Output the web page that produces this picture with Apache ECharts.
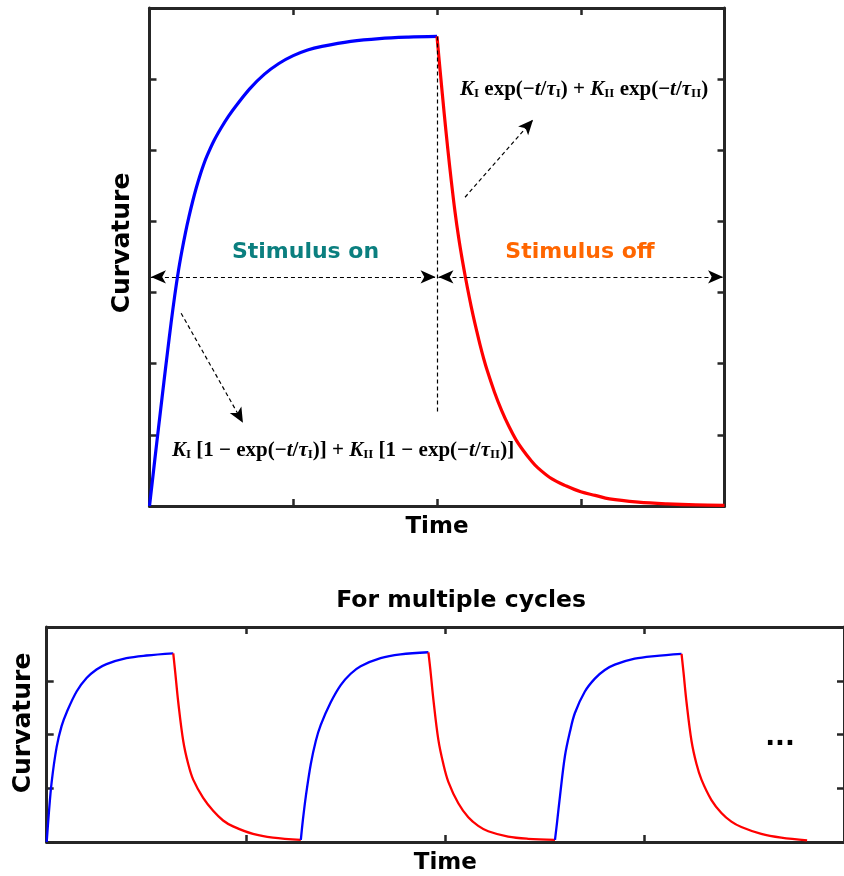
<!DOCTYPE html>
<html>
<head>
<meta charset="utf-8">
<title>Curvature response</title>
<script src="https://cdn.jsdelivr.net/npm/echarts@6/dist/echarts.min.js"></script>
<style>
html, body { margin: 0; padding: 0; background: #fff; }
#chart { width: 844px; height: 876px; }
</style>
</head>
<body>
<div id="chart"></div>
<script>
/****************  data  ****************************************/
// top panel: one on / off cycle
var onTime  = [0, 0.025, 0.05, 0.075, 0.1, 0.125, 0.15, 0.175, 0.2, 0.225, 0.25, 0.275, 0.3, 0.325, 0.35, 0.375, 0.4,
               0.45, 0.5, 0.55, 0.6, 0.7, 0.8, 0.9, 1.0, 1.1, 1.2, 1.4, 1.6, 1.8, 2.0];
var onCurv  = [0, 0.44, 0.88, 1.31, 1.74, 2.16, 2.57, 2.95, 3.29, 3.58, 3.84, 4.07, 4.28, 4.47, 4.64, 4.79, 4.92,
               5.14, 5.32, 5.48, 5.62, 5.87, 6.07, 6.22, 6.33, 6.41, 6.46, 6.53, 6.57, 6.59, 6.6];
var offTime = [2.0, 2.025, 2.05, 2.075, 2.1, 2.125, 2.15, 2.175, 2.2, 2.225, 2.25, 2.275, 2.3, 2.325, 2.35,
               2.4, 2.45, 2.5, 2.55, 2.6, 2.65, 2.7, 2.8, 2.9, 3.0, 3.1, 3.2, 3.4, 3.6, 3.8, 4.0];
var offCurv = [6.6, 6.05, 5.52, 5.02, 4.56, 4.14, 3.78, 3.47, 3.19, 2.93, 2.69, 2.47, 2.26, 2.07, 1.9,
               1.6, 1.34, 1.12, 0.93, 0.78, 0.65, 0.54, 0.38, 0.28, 0.2, 0.15, 0.1, 0.055, 0.03, 0.015, 0.01];

// bottom panel: three cycles
var rise1Time = [0, 0.01, 0.025, 0.05, 0.075, 0.1, 0.15, 0.2, 0.25, 0.3, 0.4, 0.5, 0.635];
var rise1Curv = [0, 0.5, 1.12, 1.77, 2.16, 2.41, 2.8, 3.05, 3.21, 3.31, 3.42, 3.47, 3.51];
var fall1Time = [0.635, 0.645, 0.66, 0.685, 0.71, 0.735, 0.785, 0.835, 0.885, 0.935, 1.035, 1.135, 1.275];
var fall1Curv = [3.51, 3.15, 2.6, 1.88, 1.45, 1.16, 0.82, 0.58, 0.4, 0.29, 0.15, 0.08, 0.04];
var rise2Time = [1.275, 1.285, 1.3, 1.325, 1.35, 1.375, 1.425, 1.475, 1.525, 1.575, 1.675, 1.775, 1.915];
var rise2Curv = [0.04, 0.4, 0.85, 1.45, 1.88, 2.18, 2.6, 2.92, 3.13, 3.27, 3.42, 3.49, 3.53];
var fall2Time = [1.915, 1.925, 1.94, 1.965, 1.99, 2.015, 2.065, 2.115, 2.165, 2.215, 2.315, 2.415, 2.55];
var fall2Curv = [3.53, 3.2, 2.65, 1.9, 1.45, 1.12, 0.72, 0.46, 0.3, 0.2, 0.1, 0.06, 0.04];
var rise3Time = [2.55, 2.56, 2.575, 2.6, 2.625, 2.65, 2.7, 2.75, 2.8, 2.85, 2.95, 3.05, 3.185];
var rise3Curv = [0.04, 0.35, 0.85, 1.6, 2.05, 2.4, 2.8, 3.04, 3.2, 3.3, 3.41, 3.46, 3.5];
var fall3Time = [3.185, 3.195, 3.21, 3.235, 3.26, 3.285, 3.335, 3.385, 3.435, 3.485, 3.585, 3.685, 3.815];
var fall3Curv = [3.5, 3.15, 2.6, 1.88, 1.45, 1.16, 0.78, 0.54, 0.38, 0.28, 0.15, 0.08, 0.03];

var BLUE = '#0000ff', RED = '#ff0000', AXIS = '#262626';

// pair up x / y arrays
function pairs(xs, ys) {
    var out = [];
    for (var i = 0; i < xs.length; i++) {
        out.push([xs[i], ys[i]]);
    }
    return out;
}

// one side of the boxed (matlab style) axes
function boxAxis(grid, pos, max, name, gap) {
    var a = {
        type: 'value',
        gridIndex: grid,
        position: pos,
        min: 0,
        max: max,
        interval: 1,
        axisLine: {show: true, onZero: false, lineStyle: {color: AXIS, width: 3}},
        axisTick: {show: true, inside: true, length: 7, lineStyle: {color: AXIS, width: 2.5}},
        axisLabel: {show: false},
        splitLine: {show: false}
    };
    if (name) {
        a.name = name;
        a.nameLocation = 'middle';
        a.nameGap = gap;
        a.nameTextStyle = {fontFamily: 'DejaVu Sans', fontWeight: 'bold', fontSize: 23, color: '#000'};
    }
    return a;
}

function curve(grid, data, color, width) {
    return {
        type: 'line',
        xAxisIndex: grid * 2,
        yAxisIndex: grid * 2,
        data: data,
        symbol: 'none',
        smooth: 0.35,
        lineStyle: {color: color, width: width},
        silent: true,
        animation: false
    };
}

var dash = {type: [4, 3], color: '#000', width: 1.2};

var topOn = curve(0, pairs(onTime, onCurv), BLUE, 3.2);
// dashed guides and arrows, anchored in data space
topOn.markLine = {
    silent: true,
    animation: false,
    symbol: ['none', 'none'],
    symbolSize: [10, 15],
    label: {show: false},
    lineStyle: dash,
    data: [
        [{coord: [2, 6.6]}, {coord: [2, 1.3]}],
        [{coord: [0.01, 3.22], symbol: 'arrow'}, {coord: [1.99, 3.22], symbol: 'arrow'}],
        [{coord: [2.01, 3.22], symbol: 'arrow'}, {coord: [3.99, 3.22], symbol: 'arrow'}],
        [{coord: [0.22, 2.71]}, {coord: [0.65, 1.17], symbol: 'arrow'}],
        [{coord: [2.195, 4.34]}, {coord: [2.668, 5.43], symbol: 'arrow'}]
    ]
};

var mathRich = {
    k: {fontFamily: 'Liberation Serif', fontWeight: 'bold', fontStyle: 'italic', fontSize: 21, fill: '#000'},
    s: {fontFamily: 'Liberation Serif', fontWeight: 'bold', fontSize: 13, fill: '#000', verticalAlign: 'bottom'}
};

function label(x, y, text, size, color, rot) {
    return {
        type: 'text', x: x, y: y, rotation: rot || 0, silent: true,
        style: {
            text: text, fill: color,
            fontFamily: 'DejaVu Sans', fontWeight: 'bold', fontSize: size,
            align: 'center', verticalAlign: 'middle'
        }
    };
}

function formula(x, y, text) {
    return {
        type: 'text', x: x, y: y, silent: true,
        style: {
            text: text, fill: '#000',
            fontFamily: 'Liberation Serif', fontWeight: 'bold', fontSize: 21,
            align: 'left', verticalAlign: 'middle',
            rich: mathRich
        }
    };
}

var option = {
    backgroundColor: '#fff',
    animation: false,
    grid: [
        {left: 149.5, top: 8, width: 575, height: 498},
        {left: 46.7, top: 627, width: 800, height: 215.3}
    ],
    xAxis: [
        boxAxis(0, 'bottom', 4, 'Time', 10),
        boxAxis(0, 'top', 4),
        boxAxis(1, 'bottom', 4, 'Time', 10),
        boxAxis(1, 'top', 4)
    ],
    yAxis: [
        boxAxis(0, 'left', 7),
        boxAxis(0, 'right', 7),
        boxAxis(1, 'left', 4),
        boxAxis(1, 'right', 4)
    ],
    series: [
        topOn,
        curve(0, pairs(offTime, offCurv), RED, 3.2),
        curve(1, pairs(rise1Time, rise1Curv), BLUE, 2.3),
        curve(1, pairs(fall1Time, fall1Curv), RED, 2.3),
        curve(1, pairs(rise2Time, rise2Curv), BLUE, 2.3),
        curve(1, pairs(fall2Time, fall2Curv), RED, 2.3),
        curve(1, pairs(rise3Time, rise3Curv), BLUE, 2.3),
        curve(1, pairs(fall3Time, fall3Curv), RED, 2.3)
    ],
    graphic: [
        label(122.5, 243, 'Curvature', 25, '#000', Math.PI / 2),
        label(23, 723, 'Curvature', 25, '#000', Math.PI / 2),
        label(305.5, 252, 'Stimulus on', 22, '#0b7f7f'),
        label(580, 252, 'Stimulus off', 22, '#ff6600'),
        formula(460, 90, '{k|K}{s|I} exp(\u2212{k|t}/{k|\u03c4}{s|I}) + {k|K}{s|II} exp(\u2212{k|t}/{k|\u03c4}{s|II})'),
        formula(172, 451, '{k|K}{s|I} [1 \u2212 exp(\u2212{k|t}/{k|\u03c4}{s|I})] + {k|K}{s|II} [1 \u2212 exp(\u2212{k|t}/{k|\u03c4}{s|II})]'),
        label(461, 601, 'For multiple cycles', 23.5, '#000'),
        label(780, 738, '...', 26, '#000')
    ]
};

var myChart = echarts.init(document.getElementById('chart'), null, {renderer: 'canvas'});
myChart.setOption(option);
</script>
</body>
</html>
